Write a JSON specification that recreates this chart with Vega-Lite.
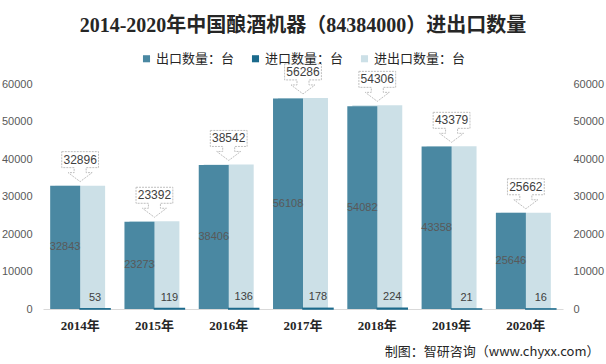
{
  "$schema": "https://vega.github.io/schema/vega-lite/v6.json",
  "width": 520,
  "height": 225,
  "autosize": {"type": "none"},
  "padding": {"left": 43, "top": 84, "right": 43, "bottom": 55},
  "background": "white",
  "title": {
    "text": "2014-2020年中国酿酒机器（84384000）进出口数量",
    "font": "Liberation Serif, Noto Sans CJK SC",
    "fontSize": 20,
    "fontWeight": "bold",
    "color": "#262626",
    "anchor": "middle",
    "offset": 16
  },
  "config": {"view": {"stroke": null}},
  "data": {
    "values": [
      {"year": "2014年", "series": "出口数量：台", "value": 32843},
      {"year": "2015年", "series": "出口数量：台", "value": 23273},
      {"year": "2016年", "series": "出口数量：台", "value": 38406},
      {"year": "2017年", "series": "出口数量：台", "value": 56108},
      {"year": "2018年", "series": "出口数量：台", "value": 54082},
      {"year": "2019年", "series": "出口数量：台", "value": 43358},
      {"year": "2020年", "series": "出口数量：台", "value": 25646},
      {"year": "2014年", "series": "进口数量：台", "value": 53},
      {"year": "2015年", "series": "进口数量：台", "value": 119},
      {"year": "2016年", "series": "进口数量：台", "value": 136},
      {"year": "2017年", "series": "进口数量：台", "value": 178},
      {"year": "2018年", "series": "进口数量：台", "value": 224},
      {"year": "2019年", "series": "进口数量：台", "value": 21},
      {"year": "2020年", "series": "进口数量：台", "value": 16},
      {"year": "2014年", "series": "进出口数量：台", "value": 32896},
      {"year": "2015年", "series": "进出口数量：台", "value": 23392},
      {"year": "2016年", "series": "进出口数量：台", "value": 38542},
      {"year": "2017年", "series": "进出口数量：台", "value": 56286},
      {"year": "2018年", "series": "进出口数量：台", "value": 54306},
      {"year": "2019年", "series": "进出口数量：台", "value": 43379},
      {"year": "2020年", "series": "进出口数量：台", "value": 25662}
    ]
  },
  "encoding": {
    "x": {
      "field": "year",
      "type": "nominal",
      "sort": null,
      "scale": {"paddingInner": 0.193, "paddingOuter": 0.0965},
      "axis": {
        "labelAngle": 0,
        "labelFont": "Liberation Serif, Noto Sans CJK SC",
        "labelFontWeight": "bold",
        "labelFontSize": 13,
        "labelColor": "#262626",
        "labelPadding": 10,
        "ticks": false,
        "domainColor": "#D9D9D9",
        "domainWidth": 1,
        "title": "制图：智研咨询（www.chyxx.com）",
        "titleFont": "Noto Sans CJK SC",
        "titleFontSize": 13,
        "titleFontWeight": "normal",
        "titleColor": "#262626",
        "titleX": 556,
        "titleY": 42,
        "titleAlign": "right",
        "titleBaseline": "middle",
        "titleAnchor": "end"
      }
    }
  },
  "layer": [
    {
      "transform": [{"filter": "datum.series === '进出口数量：台'"}],
      "mark": {"type": "bar", "width": {"band": 0.8333}},
      "encoding": {
        "y": {
          "field": "value",
          "type": "quantitative",
          "scale": {"domain": [0, 60000], "nice": false},
          "axis": {
            "orient": "left",
            "values": [0, 10000, 20000, 30000, 40000, 50000, 60000],
            "format": "d",
            "grid": false,
            "domain": false,
            "ticks": false,
            "labelPadding": 11,
            "labelFont": "Liberation Sans",
            "labelFontSize": 11,
            "labelColor": "#595959",
            "title": null
          }
        },
        "color": {
          "field": "series",
          "type": "nominal",
          "scale": {
            "domain": ["出口数量：台", "进口数量：台", "进出口数量：台"],
            "range": ["#4A88A2", "#1B6A8C", "#CCE0E7"]
          },
          "legend": {
            "orient": "none",
            "legendX": 97,
            "legendY": -32,
            "direction": "horizontal",
            "title": null,
            "symbolType": "square",
            "symbolSize": 50,
            "symbolStrokeWidth": 0,
            "labelFont": "Noto Sans CJK SC",
            "labelFontSize": 13,
            "labelColor": "#262626",
            "columnPadding": 14,
            "labelOffset": 3,
            "labelLimit": 200
          }
        }
      }
    },
    {
      "transform": [{"filter": "datum.series === '出口数量：台'"}],
      "mark": {"type": "bar"},
      "encoding": {
        "xOffset": {"field": "series", "type": "nominal", "scale": {"domain": ["出口数量：台", "进口数量：台"]}},
        "y": {"field": "value", "type": "quantitative", "scale": {"domain": [0, 60000], "nice": false}, "axis": null},
        "color": {"field": "series", "type": "nominal"}
      }
    },
    {
      "transform": [{"filter": "datum.series === '进口数量：台'"}],
      "mark": {"type": "bar", "stroke": "#1B6A8C", "strokeWidth": 1.5},
      "encoding": {
        "xOffset": {"field": "series", "type": "nominal", "scale": {"domain": ["出口数量：台", "进口数量：台"]}},
        "y": {"field": "value", "type": "quantitative", "scale": {"domain": [0, 60000], "nice": false}, "axis": null},
        "color": {"field": "series", "type": "nominal"}
      }
    },
    {
      "transform": [
        {"filter": "datum.series === '出口数量：台'"},
        {"calculate": "datum.value / 2", "as": "mid"}
      ],
      "mark": {"type": "text", "font": "Liberation Sans", "fontSize": 11, "color": "#595959", "baseline": "middle"},
      "encoding": {
        "xOffset": {"field": "series", "type": "nominal", "scale": {"domain": ["出口数量：台", "进口数量：台"]}},
        "y": {"field": "mid", "type": "quantitative", "scale": {"domain": [0, 60000], "nice": false}, "axis": null},
        "text": {"field": "value", "type": "quantitative", "format": "d"}
      }
    },
    {
      "transform": [{"filter": "datum.series === '进口数量：台'"}],
      "mark": {"type": "text", "font": "Liberation Sans", "fontSize": 11, "color": "#404040", "baseline": "middle", "yOffset": -11},
      "encoding": {
        "xOffset": {"field": "series", "type": "nominal", "scale": {"domain": ["出口数量：台", "进口数量：台"]}},
        "y": {"field": "value", "type": "quantitative", "scale": {"domain": [0, 60000], "nice": false}, "axis": null},
        "text": {"field": "value", "type": "quantitative", "format": "d"}
      }
    },
    {
      "transform": [{"filter": "datum.series === '进出口数量：台'"}],
      "mark": {
        "type": "point",
        "shape": "M-0.92,-1.5 L0.92,-1.5 L0.92,-0.7 L0.3,-0.7 L0.3,-0.45 L0.6,-0.45 L0,0 L-0.6,-0.45 L-0.3,-0.45 L-0.3,-0.7 L-0.92,-0.7 Z",
        "size": 1600,
        "filled": true,
        "fill": "white",
        "stroke": "#BFBFBF",
        "strokeWidth": 1,
        "strokeDash": [2, 1],
        "opacity": 1,
        "yOffset": -4
      },
      "encoding": {
        "y": {"field": "value", "type": "quantitative", "scale": {"domain": [0, 60000], "nice": false}, "axis": null}
      }
    },
    {
      "transform": [{"filter": "datum.series === '进出口数量：台'"}],
      "mark": {"type": "text", "font": "Liberation Sans", "fontSize": 12, "color": "#404040", "baseline": "middle", "yOffset": -26},
      "encoding": {
        "y": {
          "field": "value",
          "type": "quantitative",
          "scale": {"domain": [0, 60000], "nice": false},
          "axis": {
            "orient": "right",
            "values": [0, 10000, 20000, 30000, 40000, 50000, 60000],
            "format": "d",
            "grid": false,
            "domain": false,
            "ticks": false,
            "labelPadding": 10,
            "labelFont": "Liberation Sans",
            "labelFontSize": 11,
            "labelColor": "#595959",
            "title": null
          }
        },
        "text": {"field": "value", "type": "quantitative", "format": "d"}
      }
    }
  ],
  "resolve": {"axis": {"y": "independent"}}
}
